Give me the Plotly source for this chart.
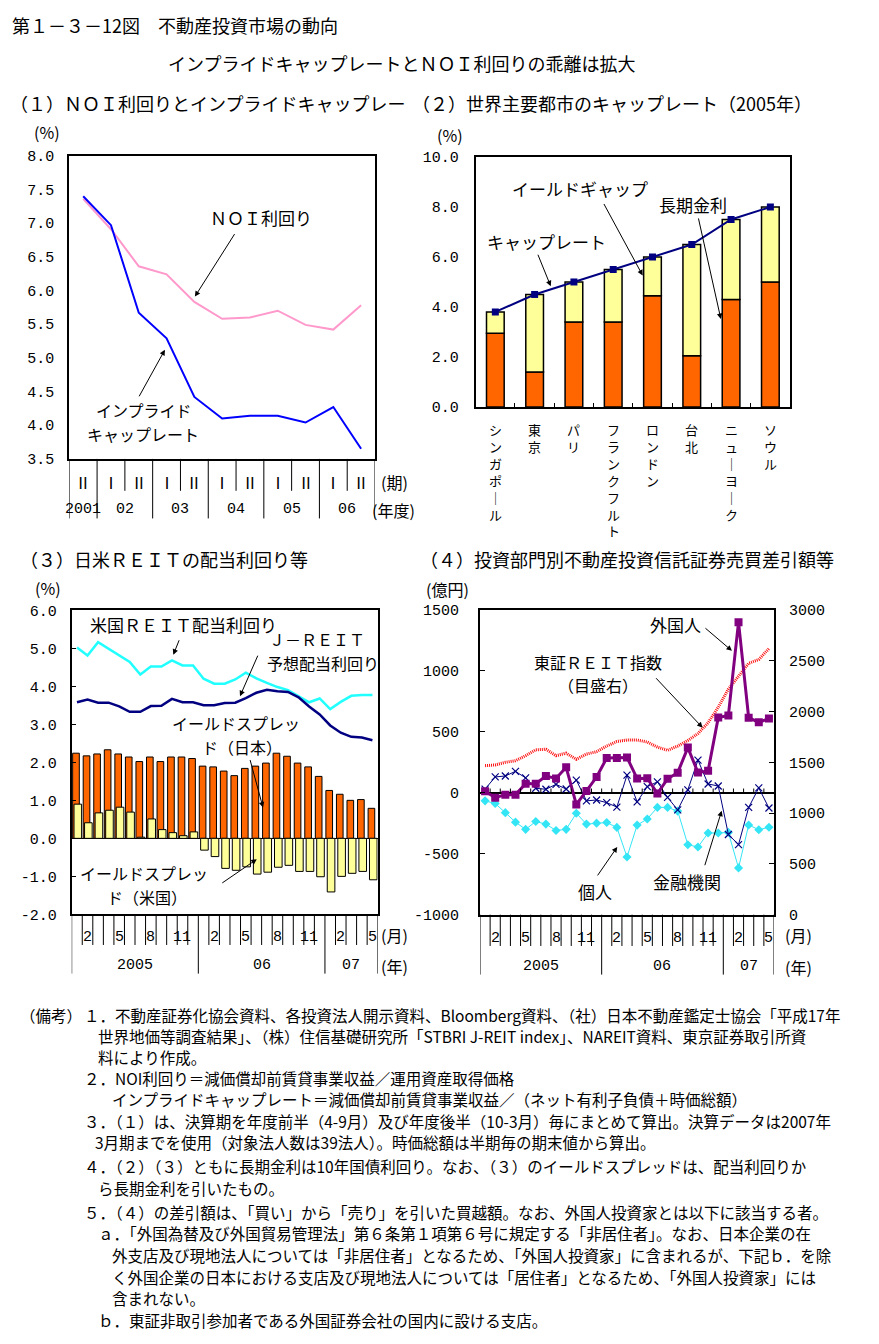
import plotly.graph_objects as go

W, H = 879, 1344
JP = "Noto Sans CJK JP"
MONO = "Liberation Mono"

# ---------------- data ----------------
# (1) NOI yield and implied cap rate (half-year periods)
p1_periods = ["Ⅱ", "Ⅰ", "Ⅱ", "Ⅰ", "Ⅱ", "Ⅰ", "Ⅱ", "Ⅰ", "Ⅱ", "Ⅰ", "Ⅱ"]
p1_years = ["2001", "02", "03", "04", "05", "06"]
p1_year_len = [1, 2, 2, 2, 2, 2]
noi_yield = [7.36, 6.91, 6.36, 6.24, 5.83, 5.58, 5.60, 5.70, 5.49, 5.42, 5.78]
implied_cap_rate = [7.40, 6.97, 5.67, 5.29, 4.42, 4.10, 4.14, 4.14, 4.04, 4.27, 3.65]

# (2) cap rates of major world cities, 2005
cities = ["シンガポール", "東京", "パリ", "フランクフルト", "ロンドン", "台北", "ニューヨーク", "ソウル"]
long_rate = [2.95, 1.40, 3.40, 3.40, 4.45, 2.05, 4.30, 5.00]
cap_rate = [3.80, 4.50, 5.00, 5.50, 6.00, 6.50, 7.50, 8.00]

# (3) REIT dividend yields, Jan 2005 - May 2007 (monthly)
p3_months = [str(m) for m in list(range(1, 13)) + list(range(1, 13)) + list(range(1, 6))]
p3_years = ["2005", "06", "07"]
p3_year_len = [12, 12, 5]
jp_spread = [2.24, 2.17, 2.22, 2.33, 2.22, 2.14, 2.02, 2.14, 2.02, 2.14, 2.14, 2.10,
             1.90, 1.88, 1.77, 1.65, 1.84, 1.90, 1.98, 2.24, 2.16, 1.98, 1.88, 1.63,
             1.26, 1.16, 1.00, 1.02, 0.79]
us_spread = [0.90, 0.41, 0.67, 0.74, 0.82, 0.69, 0.03, 0.51, 0.23, 0.15, 0.07, 0.17,
             -0.31, -0.48, -0.79, -0.84, -0.75, -0.94, -0.89, -0.76, -0.71, -0.87, -0.87, -1.01,
             -1.41, -1.00, -0.92, -0.87, -1.09]
us_reit_yield = [5.02, 4.81, 5.16, 4.99, 4.81, 4.64, 4.31, 4.52, 4.52, 4.68, 4.55, 4.55,
                 4.20, 4.07, 4.07, 4.18, 4.36, 4.21, 4.09, 3.98, 3.90, 3.75, 3.58, 3.68,
                 3.40, 3.59, 3.75, 3.77, 3.77]
jreit_yield = [3.58, 3.65, 3.57, 3.57, 3.47, 3.33, 3.33, 3.48, 3.49, 3.67, 3.58, 3.58,
               3.50, 3.50, 3.56, 3.57, 3.69, 3.83, 3.91, 3.87, 3.85, 3.71, 3.47, 3.26,
               2.97, 2.78, 2.67, 2.65, 2.58]

# (4) net purchases of REITs by investor type (100 mn yen), TSE REIT index (right)
foreign = [12, -40, -15, -15, 75, 75, 137, 118, 209, -95, 15, 129,
           285, 285, 290, 117, 120, -6, 115, 165, 371, 166, 180, 617,
           635, 1400, 616, 578, 609]
financial = [30, 130, 138, 176, 122, 37, 29, 69, 31, 104, -66, -59,
             -81, -117, 145, -74, 50, 90, -38, -140, 24, 268, 72, 56,
             -342, -425, -120, 40, -125]
individual = [-66, -88, -163, -241, -300, -236, -257, -309, -300, -168, -257, -249,
              -244, -284, -527, -265, -215, -120, -120, -150, -426, -445, -330, -330,
              -325, -616, -264, -303, -283]
tse_reit_index = [1467, 1474, 1500, 1516, 1565, 1623, 1629, 1565, 1590, 1530, 1581, 1605,
                  1660, 1705, 1720, 1720, 1700, 1650, 1618, 1660, 1715, 1783, 1890, 2042,
                  2220, 2350, 2475, 2512, 2620]

# ---------------- helpers ----------------
def px2x(px):
    return px / W

def px2y(py):
    return 1 - py / H

annotations = []
shapes = []

def text(x, y, s, xref="paper", yref="paper", size=17, font=JP,
         xanchor="center", yanchor="middle", align="center"):
    if xref == "paper":
        x = px2x(x)
    if yref == "paper":
        y = px2y(y)
    annotations.append(dict(x=x, y=y, xref=xref, yref=yref, text=s, showarrow=False,
                            font=dict(family=font, size=size, color="black"),
                            xanchor=xanchor, yanchor=yanchor, align=align))

def arrow(x, y, ax, ay, xref, yref):
    annotations.append(dict(x=x, y=y, xref=xref, yref=yref, ax=ax, ay=ay, text="",
                            font=dict(size=1), borderpad=0,
                            showarrow=True, arrowhead=2, arrowsize=1.1, arrowwidth=1,
                            arrowcolor="black"))

def vline(x, xref, y0px, y1px, width=1):
    shapes.append(dict(type="line", xref=xref, yref="paper", x0=x, x1=x,
                       y0=px2y(y0px), y1=px2y(y1px),
                       line=dict(color="black", width=width)))

def category_rows(xref, labels, years, year_len, bottom_px, lab_px, yr_px,
                  short_px, long_px, lab_font=JP, lab_size=15):
    n = len(labels)
    for i, lab in enumerate(labels, start=1):
        if lab:
            text(i, lab_px, lab, xref=xref, size=lab_size, font=lab_font)
    pos = 0.5
    long_b = {0.5}
    for yr, ln in zip(years, year_len):
        text(pos + ln / 2, yr_px, yr, xref=xref, font=MONO, size=15)
        pos += ln
        long_b.add(pos)
    for k in range(n + 1):
        b = 0.5 + k
        vline(b, xref, bottom_px, long_px if b in long_b else short_px)

fig = go.Figure()

# ---------------- panel 1 ----------------
x1 = list(range(1, len(noi_yield) + 1))
fig.add_trace(go.Scatter(x=x1, y=noi_yield, mode="lines", line=dict(color="#FF99CC", width=2),
                         xaxis="x", yaxis="y"))
fig.add_trace(go.Scatter(x=x1, y=implied_cap_rate, mode="lines", line=dict(color="#0000FF", width=2),
                         xaxis="x", yaxis="y"))

# ---------------- panel 2 ----------------
x2 = list(range(len(cities)))
yield_gap = [c - l for c, l in zip(cap_rate, long_rate)]
fig.add_trace(go.Bar(x=x2, y=long_rate, width=0.45, marker=dict(color="#FF6600", line=dict(color="black", width=1.5)),
                     xaxis="x2", yaxis="y2"))
fig.add_trace(go.Bar(x=x2, y=yield_gap, base=long_rate, width=0.45,
                     marker=dict(color="#FFFF99", line=dict(color="black", width=1.5)),
                     xaxis="x2", yaxis="y2"))
fig.add_trace(go.Scatter(x=x2, y=cap_rate, mode="lines+markers", line=dict(color="#000080", width=2),
                         marker=dict(symbol="square", size=7, color="#000080"),
                         xaxis="x2", yaxis="y2"))

# ---------------- panel 3 ----------------
x3 = list(range(1, len(jp_spread) + 1))
fig.add_trace(go.Bar(x=x3, y=jp_spread, width=0.63, offset=-0.41,
                     marker=dict(color="#FF6600", line=dict(color="black", width=1)),
                     xaxis="x3", yaxis="y3"))
fig.add_trace(go.Bar(x=x3, y=us_spread, width=0.72, offset=-0.28,
                     marker=dict(color="#FFFF99", line=dict(color="black", width=1)),
                     xaxis="x3", yaxis="y3"))
fig.add_trace(go.Scatter(x=x3, y=us_reit_yield, mode="lines", line=dict(color="#22FFFF", width=2.5),
                         xaxis="x3", yaxis="y3"))
fig.add_trace(go.Scatter(x=x3, y=jreit_yield, mode="lines", line=dict(color="#000080", width=2.5),
                         xaxis="x3", yaxis="y3"))

# ---------------- panel 4 ----------------
x4 = list(range(1, len(foreign) + 1))
fig.add_trace(go.Scatter(x=x4, y=tse_reit_index, mode="lines",
                         line=dict(color="#FF1010", width=3, dash="1px,1px"),
                         xaxis="x4", yaxis="y4"))
fig.add_trace(go.Scatter(x=x4, y=individual, mode="lines+markers", line=dict(color="#33E5F5", width=1),
                         marker=dict(symbol="diamond", size=7, color="#33E5F5"),
                         xaxis="x4", yaxis="y5"))
fig.add_trace(go.Scatter(x=x4, y=financial, mode="lines+markers", line=dict(color="#000080", width=1),
                         marker=dict(symbol="x-thin", size=7, line=dict(color="#000080", width=1.2)),
                         xaxis="x4", yaxis="y5"))
fig.add_trace(go.Scatter(x=x4, y=foreign, mode="lines+markers", line=dict(color="#800080", width=3),
                         marker=dict(symbol="square", size=8, color="#800080"),
                         xaxis="x4", yaxis="y5"))

# ---------------- axes ----------------
box = dict(showline=True, linecolor="black", linewidth=2, mirror=True, showgrid=False, zeroline=False)

def yticks(vals, fmt):
    return dict(tickvals=vals, ticktext=[fmt.format(v) for v in vals])

p1_ticks = [3.5 + 0.5 * k for k in range(10)]
p2_ticks = [2.0 * k for k in range(6)]
p3_ticks = [-2.0 + k for k in range(9)]
p4_left = [-1000 + 500 * k for k in range(6)]
p4_right = [500 * k for k in range(7)]

tickfont = dict(family=MONO, size=15, color="black")

fig.update_layout(
    width=W, height=H, margin=dict(l=0, r=0, t=0, b=0),
    paper_bgcolor="white", plot_bgcolor="white", showlegend=False, barmode="overlay",
    xaxis=dict(domain=[px2x(69.3), px2x(375)], range=[0.5, 11.5], showticklabels=False, ticks="",
               anchor="y", **box),
    yaxis=dict(domain=[px2y(457.7), px2y(150.7)], range=[3.5, 8.0], ticks="", tickfont=tickfont,
               ticklabelstandoff=10, anchor="x", **yticks(p1_ticks, "{:.1f}"), **box),
    xaxis2=dict(domain=[px2x(475.7), px2x(790)], range=[-0.5, 7.5], showticklabels=False,
                tickvals=[k + 0.5 for k in range(7)], ticks="inside", ticklen=4, tickcolor="black",
                anchor="y2", **box),
    yaxis2=dict(domain=[px2y(405), px2y(152)], range=[0, 10], ticks="", tickfont=tickfont,
                ticklabelstandoff=12, anchor="x2", **yticks(p2_ticks, "{:.1f}"), **box),
    xaxis3=dict(domain=[px2x(71.7), px2x(377.7)], range=[0.5, 29.5], showticklabels=False, ticks="",
                anchor="y3", **box),
    yaxis3=dict(domain=[px2y(919), px2y(611)], range=[-2, 6], ticks="inside", ticklen=4,
                tickcolor="black", tickfont=tickfont, ticklabelstandoff=10, anchor="x3",
                **yticks(p3_ticks, "{:.1f}"),
                **{**box, "zeroline": True}, zerolinecolor="black", zerolinewidth=1),
    xaxis4=dict(domain=[px2x(480), px2x(774)], range=[0.5, 29.5], showticklabels=False, ticks="",
                anchor="y4", **box),
    yaxis4=dict(domain=[px2y(919.3), px2y(610.7)], range=[0, 3000], side="right", ticks="inside",
                ticklen=5, tickcolor="black", tickfont=tickfont, ticklabelstandoff=10, anchor="x4",
                **yticks(p4_right, "{:d}"), **box),
    yaxis5=dict(range=[-1000, 1500], overlaying="y4", side="left", anchor="x4", ticks="inside",
                ticklen=5, tickcolor="black", tickfont=tickfont, ticklabelstandoff=20,
                showline=False, showgrid=False, zeroline=True, zerolinecolor="black",
                zerolinewidth=1.5, **yticks(p4_left, "{:d}")),
)

# ---------------- titles ----------------
text(10, 18, "第１－３－12図　不動産投資市場の動向", xanchor="left", size=18)
text(166, 57, "インプライドキャップレートとＮＯＩ利回りの乖離は拡大", xanchor="left", size=18)
text(8, 97, "（１）ＮＯＩ利回りとインプライドキャップレー", xanchor="left", size=18)
text(410, 97, "（２）世界主要都市のキャップレート（2005年）", xanchor="left", size=18)
text(18, 559, "（３）日米ＲＥＩＴの配当利回り等", xanchor="left", size=18)
text(418, 559, "（４）投資部門別不動産投資信託証券売買差引額等", xanchor="left", size=18)

text(47, 127, "(%)", size=16)
text(450, 130, "(%)", size=16)
text(48, 588, "(%)", size=16)
text(448, 589, "(億円)", size=16)

# ---------------- panel 1 labels ----------------
category_rows("x", p1_periods, p1_years, p1_year_len, 457.7, 481, 509, 490, 518, lab_size=16)
text(394, 481, "(期)", size=16)
text(393, 509, "(年度)", size=16)
text(7.4, 7.09, "ＮＯＩ利回り", xref="x", yref="y")
arrow(5.02, 5.91, 40, -63, "x", "y")
text(143.5, 408.5, "インプライド", size=16)
text(143, 432.5, "キャップレート", size=16)
arrow(3.94, 5.12, -26, 47, "x", "y")

# ---------------- panel 2 labels ----------------
for i, c in enumerate(cities):
    chars = ["｜" if ch == "ー" else ch for ch in c]
    text(i, 416, "<br>".join(chars), xref="x2", size=13, yanchor="top")
text(2.15, 8.74, "イールドギャップ", xref="x2", yref="y2")
arrow(3.75, 5.26, -39, -72, "x2", "y2")
text(5.04, 8.10, "長期金利", xref="x2", yref="y2")
arrow(5.74, 3.52, -22.5, -101, "x2", "y2")
text(1.31, 6.64, "キャップレート", xref="x2", yref="y2")
arrow(1.41, 4.83, -13, -32, "x2", "y2")

# ---------------- panel 3 labels ----------------
p3_show = [m if int(m) % 3 == 2 else "" for m in p3_months]
category_rows("x3", p3_show, p3_years, p3_year_len, 919, 942, 971, 950, 979, lab_font=MONO)
text(394, 940, "(月)", size=16)
text(394, 971, "(年)", size=16)
text(11.14, 5.62, "米国ＲＥＩＴ配当利回り", xref="x3", yref="y3")
arrow(10.13, 4.83, 6, -15, "x3", "y3")
text(317, 640, "Ｊ－ＲＥＩＴ", size=16)
text(323, 664, "予想配当利回り", size=16)
arrow(16.45, 3.74, 18, -41, "x3", "y3")
text(170, 725.5, "イールドスプレッ", size=16, xanchor="left")
text(200, 749.5, "ド（日本）", size=16, xanchor="left")
arrow(18.63, 0.81, -13, -48, "x3", "y3")
text(78, 877.5, "イールドスプレッ", size=16, xanchor="left")
text(105, 901.5, "ド（米国）", size=16, xanchor="left")
arrow(18.04, -0.55, -35, 24, "x3", "y3")

# ---------------- panel 4 labels ----------------
category_rows("x4", p3_show, p3_years, p3_year_len, 919.3, 943, 972, 951, 980, lab_font=MONO)
text(798, 940, "(月)", size=16)
text(798, 972, "(年)", size=16)
for k in range(1, len(foreign)):
    shapes.append(dict(type="line", xref="x4", yref="y5", x0=k + 0.5, x1=k + 0.5, y0=0, y1=35,
                       line=dict(color="black", width=1)))
text(19.83, 1384, "外国人", xref="x4", yref="y5")
arrow(25.35, 1165, -27, -23, "x4", "y5")
text(597.5, 663, "東証ＲＥＩＴ指数", size=16)
text(597.5, 687, "（目盛右）", size=16)
arrow(22.46, 534, -47, -50, "x4", "y5")
text(11.84, -811, "個人", xref="x4", yref="y5")
arrow(14.04, -444, -20, 29, "x4", "y5")
text(20.91, -730, "金融機関", xref="x4", yref="y5")
arrow(24.34, -147, -17, 55, "x4", "y5")

# ---------------- notes ----------------
notes = [
    (18, 1021, "（備考）"),
    (82, 1021, "１．不動産証券化協会資料、各投資法人開示資料、Bloomberg資料、（社）日本不動産鑑定士協会「平成17年"),
    (96, 1042, "世界地価等調査結果」、（株）住信基礎研究所「STBRI J-REIT index」、NAREIT資料、東京証券取引所資"),
    (96, 1063, "料により作成。"),
    (82, 1085, "２．NOI利回り＝減価償却前賃貸事業収益／運用資産取得価格"),
    (110, 1106, "インプライドキャップレート＝減価償却前賃貸事業収益／（ネット有利子負債＋時価総額）"),
    (82, 1128, "３．（１）は、決算期を年度前半（4-9月）及び年度後半（10-3月）毎にまとめて算出。決算データは2007年"),
    (93, 1150, "3月期までを使用（対象法人数は39法人）。時価総額は半期毎の期末値から算出。"),
    (82, 1174, "４．（２）（３）ともに長期金利は10年国債利回り。なお、（３）のイールドスプレッドは、配当利回りか"),
    (96, 1196, "ら長期金利を引いたもの。"),
    (82, 1220, "５．（４）の差引額は、「買い」から「売り」を引いた買越額。なお、外国人投資家とは以下に該当する者。"),
    (96, 1242, "ａ．「外国為替及び外国貿易管理法」第６条第１項第６号に規定する「非居住者」。なお、日本企業の在"),
    (110, 1264, "外支店及び現地法人については「非居住者」となるため、「外国人投資家」に含まれるが、下記ｂ．を除"),
    (110, 1286, "く外国企業の日本における支店及び現地法人については「居住者」となるため、「外国人投資家」には"),
    (110, 1308, "含まれない。"),
    (96, 1330, "ｂ．東証非取引参加者である外国証券会社の国内に設ける支店。"),
]
for nx, ny, s in notes:
    text(nx, ny, s, xanchor="left", size=15.5)

fig.update_layout(annotations=annotations, shapes=shapes)
fig.write_html("out.html", config={"displayModeBar": False},
               post_script="document.body.style.margin='0px';document.body.style.overflow='hidden';")
